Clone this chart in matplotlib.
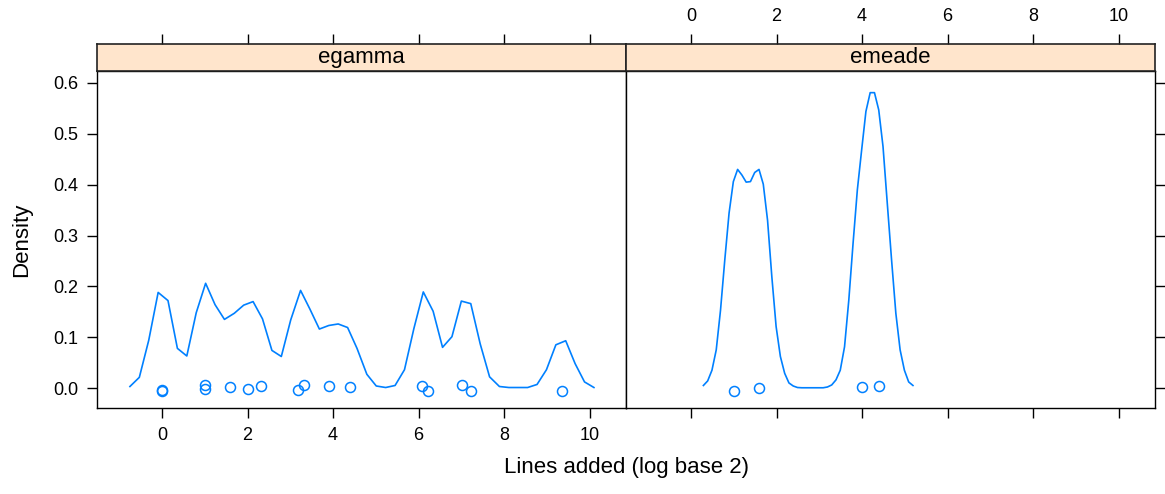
import matplotlib
matplotlib.use("Agg")
import matplotlib.pyplot as plt

plt.rcParams['font.family'] = ['Liberation Sans', 'DejaVu Sans']

panels = ["egamma", "emeade"]

egamma_x = [-0.75, -0.53, -0.31, -0.09, 0.14, 0.36, 0.58, 0.80, 1.02, 1.24,
            1.46, 1.69, 1.91, 2.13, 2.35, 2.57, 2.79, 3.01, 3.24, 3.46,
            3.68, 3.90, 4.12, 4.34, 4.56, 4.79, 5.01, 5.23, 5.45, 5.67,
            5.89, 6.11, 6.34, 6.56, 6.78, 7.00, 7.22, 7.44, 7.66, 7.89,
            8.11, 8.33, 8.55, 8.77, 8.99, 9.21, 9.44, 9.66, 9.88, 10.10]
egamma_density = [0.003, 0.021, 0.094, 0.188, 0.172, 0.078, 0.063, 0.148, 0.206, 0.164,
                  0.135, 0.147, 0.163, 0.170, 0.136, 0.074, 0.062, 0.134, 0.192, 0.155,
                  0.116, 0.123, 0.126, 0.119, 0.078, 0.027, 0.004, 0.001, 0.005, 0.036,
                  0.117, 0.189, 0.151, 0.080, 0.101, 0.171, 0.166, 0.087, 0.022, 0.003,
                  0.001, 0.001, 0.001, 0.007, 0.036, 0.085, 0.093, 0.048, 0.012, 0.001]
egamma_points_x = [0.0, 0.0, 1.0, 1.0, 1.585, 2.0, 2.32, 3.17, 3.32, 3.91,
                   4.39, 6.09, 6.23, 7.01, 7.22, 9.36]
egamma_points_y = [-0.003, -0.005, 0.006, -0.001, 0.0015, -0.002, 0.003, -0.004, 0.006, 0.003,
                   0.0025, 0.0045, -0.005, 0.006, -0.0065, -0.005]

emeade_x = [0.29, 0.39, 0.49, 0.59, 0.69, 0.79, 0.89, 0.99, 1.09, 1.19,
            1.29, 1.39, 1.49, 1.59, 1.69, 1.79, 1.89, 1.99, 2.09, 2.19,
            2.29, 2.39, 2.49, 2.59, 2.69, 2.79, 2.89, 2.99, 3.09, 3.19,
            3.29, 3.39, 3.49, 3.59, 3.69, 3.79, 3.89, 3.99, 4.09, 4.19,
            4.29, 4.39, 4.49, 4.59, 4.69, 4.79, 4.89, 4.99, 5.09, 5.19]
emeade_density = [0.005, 0.014, 0.035, 0.075, 0.153, 0.252, 0.344, 0.406, 0.430, 0.419,
                  0.405, 0.406, 0.424, 0.430, 0.401, 0.330, 0.219, 0.121, 0.062, 0.029,
                  0.010, 0.004, 0.001, 0.0005, 0.0005, 0.0005, 0.0005, 0.0005, 0.0005, 0.002,
                  0.006, 0.016, 0.035, 0.081, 0.173, 0.285, 0.390, 0.468, 0.544, 0.581,
                  0.581, 0.547, 0.475, 0.363, 0.252, 0.147, 0.075, 0.035, 0.012, 0.005]
emeade_points_x = [1.0, 1.585, 4.0, 4.39]
emeade_points_y = [-0.006, 0.0, 0.002, 0.0045]

x_ticks = [0, 2, 4, 6, 8, 10]
y_ticks = [0.0, 0.1, 0.2, 0.3, 0.4, 0.5, 0.6]
y_ticklabels = ["0.0", "0.1", "0.2", "0.3", "0.4", "0.5", "0.6"]

blue = "#0080ff"
strip_col = "#ffe5cc"
xlim = (-1.52, 10.85)
ylim = (-0.0393, 0.6236)

W, H = 1165, 494
fig = plt.figure(figsize=(W / 100, H / 100), dpi=100)

left0 = 97 / W
pw = 529 / W
bottom = 1 - 408 / H
ph = 337 / H
sh = 27 / H

data = [(egamma_x, egamma_density, egamma_points_x, egamma_points_y),
        (emeade_x, emeade_density, emeade_points_x, emeade_points_y)]

tick_fs = 13
lab_fs = 16

for i, (name, (dx, dy, px, py)) in enumerate(zip(panels, data)):
    ax = fig.add_axes([left0 + i * pw, bottom, pw, ph])
    ax.plot(dx, dy, color=blue, lw=1.2)
    ax.plot(px, py, linestyle="none", marker="o", markersize=7.2,
            markerfacecolor="none", markeredgecolor=blue, markeredgewidth=1.1)
    ax.set_xlim(*xlim)
    ax.set_ylim(*ylim)
    ax.set_xticks(x_ticks)
    ax.set_yticks(y_ticks)
    ax.tick_params(direction="out", length=7.5, width=1, color="black",
                   labelsize=tick_fs, pad=6)
    for s in ax.spines.values():
        s.set_linewidth(1)
        s.set_color("black")
    if i == 0:
        ax.set_yticklabels(y_ticklabels)
        ax.tick_params(axis="y", left=True, right=False, labelleft=True)
        ax.tick_params(axis="x", bottom=True, labelbottom=True)
    else:
        ax.tick_params(axis="y", left=False, right=True, labelleft=False,
                       labelright=False)
        ax.tick_params(axis="x", bottom=True, labelbottom=False)

    st = fig.add_axes([left0 + i * pw, bottom + ph, pw, sh])
    st.set_facecolor(strip_col)
    st.set_xlim(*xlim)
    st.set_ylim(0, 1)
    st.set_yticks([])
    st.set_xticks(x_ticks)
    st.xaxis.set_ticks_position("top")
    st.tick_params(axis="x", direction="out", length=7.5, width=1, color="black",
                   labelsize=tick_fs, pad=6, top=True, bottom=False,
                   labeltop=(i == 1), labelbottom=False)
    for s in st.spines.values():
        s.set_linewidth(1.2)
        s.set_color("#222222")
    st.text(0.5, 0.5, name, transform=st.transAxes, ha="center", va="center",
            fontsize=lab_fs)

fig.text(627 / W, 1 - 467 / H, "Lines added (log base 2)", ha="center", va="center",
         fontsize=lab_fs)
fig.text(22 / W, 1 - 240 / H, "Density", ha="center", va="center",
         rotation=90, fontsize=lab_fs)

fig.savefig("out.png", dpi=100)
